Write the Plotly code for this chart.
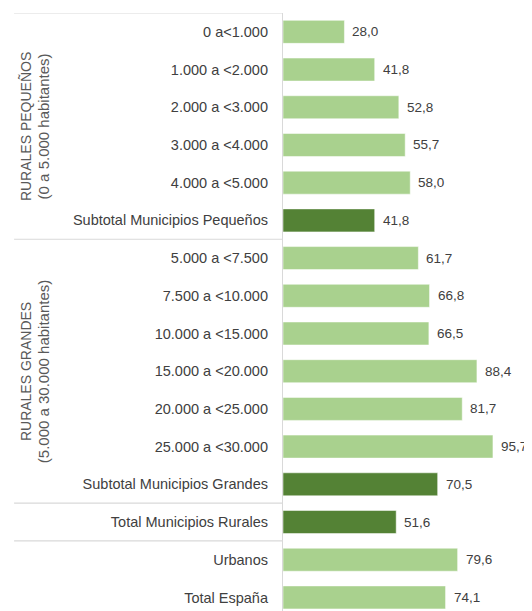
import plotly.graph_objects as go

# categories top to bottom
categories = [
    "0 a<1.000", "1.000 a <2.000", "2.000 a <3.000", "3.000 a <4.000", "4.000 a <5.000",
    "Subtotal Municipios Pequeños",
    "5.000 a <7.500", "7.500 a <10.000", "10.000 a <15.000", "15.000 a <20.000",
    "20.000 a <25.000", "25.000 a <30.000",
    "Subtotal Municipios Grandes",
    "Total Municipios Rurales",
    "Urbanos", "Total España",
]
values = [28.0, 41.8, 52.8, 55.7, 58.0, 41.8,
          61.7, 66.8, 66.5, 88.4, 81.7, 95.7, 70.5,
          51.6, 79.6, 74.1]
is_total = [False, False, False, False, False, True,
            False, False, False, False, False, False, True,
            True, False, False]

group_titles = ["RURALES PEQUEÑOS", "RURALES GRANDES"]
group_subtitles = ["(0 a 5.000 habitantes)", "(5.000 a 30.000 habitantes)"]
group_rows = [(0, 5), (6, 12)]
separators = [5.5, 12.5, 13.5]

LIGHT = "#a9d18e"
DARK = "#548235"
TEXT = "#404040"
FONT = "Liberation Sans"

fig = go.Figure()
fig.add_trace(go.Bar(
    y=categories,
    x=values,
    orientation="h",
    marker=dict(color=[DARK if t else LIGHT for t in is_total],
                line=dict(color="rgba(255,255,255,0.5)", width=1)),
    hoverinfo="x+y",
))

annotations = []
for cat, v in zip(categories, values):
    annotations.append(dict(
        x=v, y=cat, xref="x", yref="y", text=f"{v:.1f}".replace(".", ","),
        showarrow=False, xanchor="left", xshift=7, borderpad=0,
        font=dict(family=FONT, size=13.5, color=TEXT),
    ))

for title, sub, (a, b) in zip(group_titles, group_subtitles, group_rows):
    annotations.append(dict(
        x=-0.996, y=(a + b) / 2, xref="paper", yref="y",
        text=f"{title}<br><span style='font-size:15px'>{sub}</span>",
        textangle=-90, showarrow=False, xanchor="center", yanchor="middle",
        font=dict(family=FONT, size=14, color="#595959"),
    ))

line_style = dict(color="#d9d9d9", width=1.2)
shapes = [dict(type="line", xref="paper", yref="y", x0=-1.08, x1=0,
               y0=-0.5, y1=-0.5, line=line_style)]
for s in separators:
    shapes.append(dict(type="line", xref="paper", yref="y", x0=-1.08, x1=0,
                       y0=s, y1=s, line=line_style))

# page body adds an 8px margin, so the figure is 8px smaller than the window
fig.update_layout(
    width=524, height=603,
    margin=dict(l=275, r=0, t=5, b=0),
    plot_bgcolor="white", paper_bgcolor="white",
    bargap=0.39,
    showlegend=False,
    annotations=annotations,
    shapes=shapes,
    xaxis=dict(range=[0, 113.5], showgrid=False, zeroline=False,
               showticklabels=False, showline=False),
    yaxis=dict(range=[15.36, -0.5], showgrid=False, zeroline=False,
               showline=True, linecolor="#d9d9d9", linewidth=1.2,
               ticks="outside", ticklen=11, tickcolor="rgba(0,0,0,0)",
               tickfont=dict(family=FONT, size=14.5, color=TEXT)),
)

fig.write_html("out.html")
